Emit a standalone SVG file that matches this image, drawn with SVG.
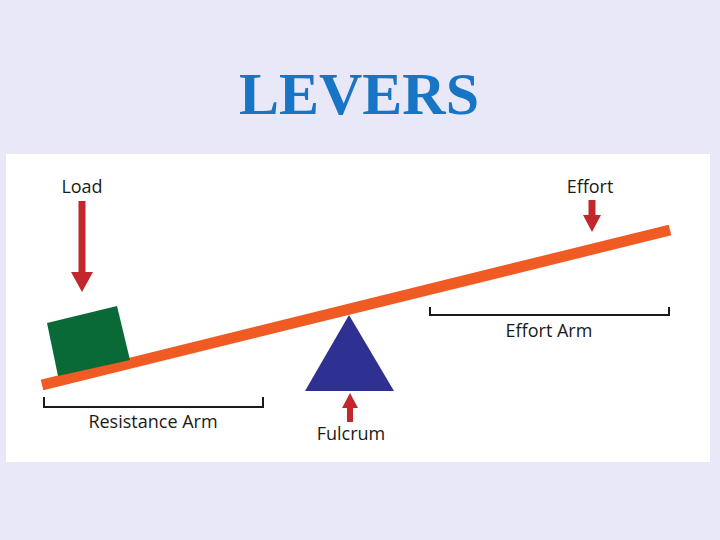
<svg xmlns="http://www.w3.org/2000/svg" width="720" height="540" viewBox="0 0 720 540">
  <style>
    .lbl { font-family: "Open Sans", "Liberation Sans", sans-serif; font-size: 18px; fill: #1a1a1a; }
    .arrow { fill: #c1272d; }
    .bracket { fill: none; stroke: #1a1a1a; stroke-width: 2; }
  </style>
  <rect x="0" y="0" width="720" height="540" fill="#e8e8f8"/>
  <text x="359" y="114" text-anchor="middle" font-family="'Liberation Serif', 'Times New Roman', serif" font-weight="bold" font-size="60" fill="#1874c4">LEVERS</text>
  <rect x="6" y="154" width="704" height="308" fill="#ffffff"/>

  <g id="lever">
    <line x1="42" y1="385" x2="670" y2="230" stroke="#f05a23" stroke-width="11"/>
  </g>

  <g id="load">
    <polygon points="47,323 117,306 130,360 58,376" fill="#0a6a37"/>
    <text class="lbl" x="82" y="193" text-anchor="middle">Load</text>
    <polygon class="arrow" points="78.5,201 85.5,201 85.5,272 93,272 82,292 71,272 78.5,272"/>
  </g>

  <g id="fulcrum">
    <polygon points="349,315 394,391 305,391" fill="#2e3192"/>
    <polygon class="arrow" points="350,393 358,408 353,408 353,422 347,422 347,408 342,408"/>
    <text class="lbl" x="351" y="440" text-anchor="middle">Fulcrum</text>
  </g>

  <g id="effort">
    <text class="lbl" x="590" y="193" text-anchor="middle">Effort</text>
    <polygon class="arrow" points="588.5,200 595.5,200 595.5,215 601,215 592,232 583,215 588.5,215"/>
  </g>

  <g id="resistance-arm">
    <polyline class="bracket" points="44,397 44,407 263,407 263,397"/>
    <text class="lbl" x="153" y="428" text-anchor="middle">Resistance Arm</text>
  </g>

  <g id="effort-arm">
    <polyline class="bracket" points="430,307 430,315 669,315 669,307"/>
    <text class="lbl" x="549" y="337" text-anchor="middle">Effort Arm</text>
  </g>
</svg>
